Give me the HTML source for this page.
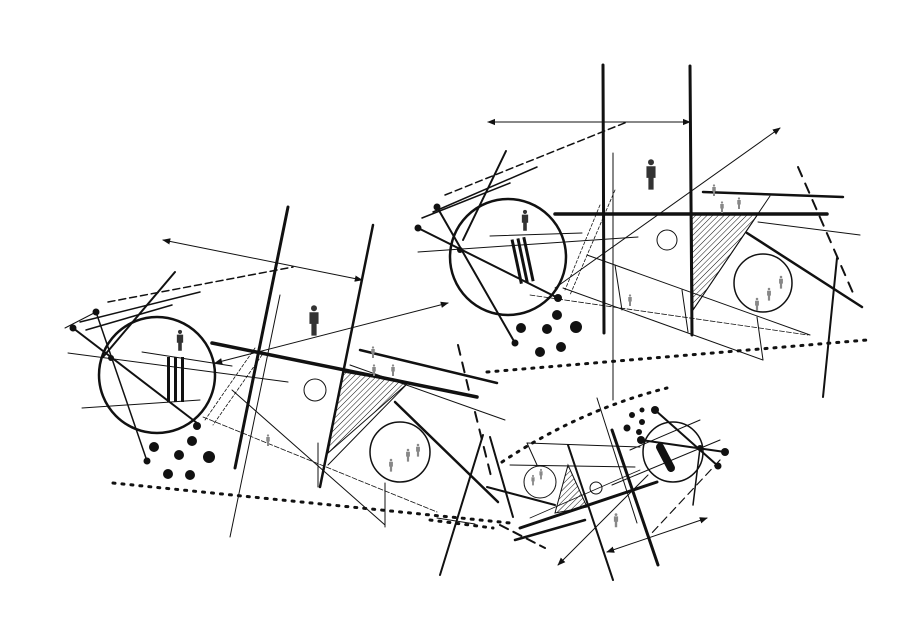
<!DOCTYPE html>
<html><head><meta charset="utf-8"><style>html,body{margin:0;padding:0;background:#fff}svg{display:block}</style></head>
<body>
<svg width="900" height="637" viewBox="0 0 900 637" xmlns="http://www.w3.org/2000/svg">
<defs>
<marker id="a" viewBox="0 0 10 10" refX="9" refY="5" markerWidth="8" markerHeight="8" orient="auto-start-reverse"><path d="M0,1 L10,5 L0,9 z" fill="#111"/></marker>
<pattern id="h" width="4" height="4" patternUnits="userSpaceOnUse" patternTransform="rotate(45)"><line x1="0" y1="0" x2="0" y2="4" stroke="#111" stroke-width="1"/></pattern>
<g id="fig"><circle cx="0" cy="-9" r="2.3"/><path d="M-3.5,-6 h7 v9 h-1.5 v9 h-4 v-9 h-1.5z"/></g>
</defs>
<g stroke="#111" fill="none" stroke-linecap="round">
<!-- LEFT GROUP -->
<circle cx="157" cy="375" r="58" stroke-width="2.5"/>
<line x1="288" y1="207" x2="235" y2="468" stroke-width="3"/>
<line x1="373" y1="225" x2="320" y2="487" stroke-width="2.5"/>
<line x1="163" y1="240" x2="362" y2="280" stroke-width="1" marker-start="url(#a)" marker-end="url(#a)"/>
<line x1="108" y1="302" x2="293" y2="267" stroke-width="1.5" stroke-dasharray="7,4"/>
<line x1="212" y1="343" x2="477" y2="397" stroke-width="3.5"/>
<line x1="360" y1="350" x2="497" y2="383" stroke-width="2.5"/>
<line x1="215" y1="363" x2="448" y2="303" stroke-width="1" marker-start="url(#a)" marker-end="url(#a)"/>
<circle cx="315" cy="390" r="11" stroke-width="1"/>
<polygon points="343,372 408,383 328,453" fill="url(#h)" stroke-width="1"/>
<line x1="408" y1="383" x2="328" y2="465" stroke-width="1"/>
<circle cx="400" cy="452" r="30" stroke-width="1.5"/>
<line x1="113" y1="483" x2="510" y2="523" stroke-width="3" stroke-dasharray="2,7"/>
<line x1="73" y1="328" x2="197" y2="423" stroke-width="2"/>
<line x1="96" y1="312" x2="147" y2="461" stroke-width="1.5"/>
<line x1="175" y1="272" x2="103" y2="357" stroke-width="2"/>
<line x1="80" y1="322" x2="200" y2="292" stroke-width="1.5"/>
<line x1="86" y1="330" x2="172" y2="305" stroke-width="1.5"/>
<line x1="65" y1="328" x2="96" y2="312" stroke-width="1"/>
<line x1="68" y1="353" x2="288" y2="382" stroke-width="1"/>
<line x1="142" y1="352" x2="232" y2="366" stroke-width="1"/>
<line x1="82" y1="408" x2="200" y2="400" stroke-width="1"/>
<line x1="232" y1="390" x2="385" y2="525" stroke-width="1"/>
<line x1="385" y1="483" x2="385" y2="527" stroke-width="1"/>
<line x1="203" y1="417" x2="437" y2="512" stroke-width="0.8" stroke-dasharray="5,2"/>
<line x1="280" y1="295" x2="230" y2="537" stroke-width="1"/>
<line x1="395" y1="402" x2="498" y2="502" stroke-width="2.5"/>
<line x1="318" y1="443" x2="318" y2="487" stroke-width="1"/>
<line x1="255" y1="348" x2="205" y2="420" stroke-width="0.8" stroke-dasharray="3,2"/>
<line x1="262" y1="355" x2="213" y2="425" stroke-width="0.8" stroke-dasharray="3,2"/>
<line x1="350" y1="365" x2="505" y2="420" stroke-width="1"/>
<line x1="458" y1="345" x2="470" y2="395" stroke-width="2" stroke-dasharray="10,8"/>
<line x1="475" y1="412" x2="492" y2="480" stroke-width="2" stroke-dasharray="10,8"/>
<line x1="483" y1="435" x2="440" y2="575" stroke-width="2"/>
<line x1="490" y1="437" x2="513" y2="517" stroke-width="2"/>
<line x1="437" y1="518" x2="475" y2="524" stroke-width="1"/>
<!-- UPPER RIGHT GROUP -->
<circle cx="508" cy="257" r="58" stroke-width="2.5"/>
<line x1="603" y1="65" x2="604" y2="333" stroke-width="3"/>
<line x1="690" y1="66" x2="692" y2="335" stroke-width="3"/>
<line x1="488" y1="122" x2="690" y2="122" stroke-width="1" marker-start="url(#a)" marker-end="url(#a)"/>
<line x1="445" y1="195" x2="627" y2="122" stroke-width="1.5" stroke-dasharray="7,4"/>
<line x1="555" y1="288" x2="780" y2="128" stroke-width="1" marker-end="url(#a)"/>
<line x1="555" y1="214" x2="827" y2="214" stroke-width="3.5"/>
<line x1="703" y1="192" x2="843" y2="197" stroke-width="2.5"/>
<polygon points="692,214 758,214 693,310" fill="url(#h)" stroke-width="1"/>
<line x1="770" y1="196" x2="693" y2="310" stroke-width="1"/>
<circle cx="667" cy="240" r="10" stroke-width="1"/>
<circle cx="763" cy="283" r="29" stroke-width="1.5"/>
<line x1="487" y1="372" x2="867" y2="340" stroke-width="3" stroke-dasharray="2,7"/>
<line x1="747" y1="233" x2="862" y2="307" stroke-width="2.5"/>
<line x1="798" y1="167" x2="853" y2="293" stroke-width="2" stroke-dasharray="10,8"/>
<line x1="837" y1="258" x2="823" y2="397" stroke-width="2"/>
<line x1="613" y1="153" x2="613" y2="400" stroke-width="1"/>
<line x1="437" y1="207" x2="515" y2="343" stroke-width="2"/>
<line x1="418" y1="228" x2="558" y2="298" stroke-width="2"/>
<line x1="506" y1="151" x2="463" y2="240" stroke-width="2"/>
<line x1="422" y1="218" x2="510" y2="183" stroke-width="1.5"/>
<line x1="433" y1="212" x2="537" y2="167" stroke-width="1.5"/>
<line x1="418" y1="252" x2="638" y2="237" stroke-width="1"/>
<line x1="490" y1="236" x2="582" y2="233" stroke-width="1"/>
<line x1="587" y1="255" x2="810" y2="335" stroke-width="1"/>
<line x1="563" y1="288" x2="763" y2="360" stroke-width="1"/>
<line x1="757" y1="317" x2="763" y2="360" stroke-width="1"/>
<line x1="682" y1="290" x2="688" y2="332" stroke-width="1"/>
<line x1="530" y1="295" x2="808" y2="335" stroke-width="0.8" stroke-dasharray="5,2"/>
<line x1="600" y1="205" x2="565" y2="290" stroke-width="0.8" stroke-dasharray="3,2"/>
<line x1="615" y1="190" x2="570" y2="295" stroke-width="0.8" stroke-dasharray="3,2"/>
<line x1="758" y1="222" x2="860" y2="235" stroke-width="1"/>
<line x1="615" y1="265" x2="622" y2="310" stroke-width="1"/>
<!-- LOWER GROUP -->
<circle cx="673" cy="452" r="30" stroke-width="1.5"/>
<circle cx="540" cy="482" r="16" stroke-width="1"/>
<circle cx="596" cy="488" r="6" stroke-width="1"/>
<polygon points="568,465 555,513 587,507" fill="url(#h)" stroke-width="1"/>
<line x1="520" y1="528" x2="657" y2="482" stroke-width="3"/>
<line x1="515" y1="540" x2="585" y2="520" stroke-width="2.5"/>
<line x1="568" y1="445" x2="613" y2="580" stroke-width="2"/>
<line x1="612" y1="430" x2="658" y2="565" stroke-width="3"/>
<line x1="597" y1="398" x2="637" y2="523" stroke-width="1"/>
<line x1="607" y1="552" x2="707" y2="518" stroke-width="1" marker-start="url(#a)" marker-end="url(#a)"/>
<line x1="648" y1="475" x2="558" y2="565" stroke-width="1" marker-end="url(#a)"/>
<line x1="527" y1="443" x2="640" y2="447" stroke-width="1"/>
<line x1="510" y1="465" x2="635" y2="467" stroke-width="1"/>
<line x1="527" y1="443" x2="537" y2="465" stroke-width="1"/>
<path d="M502,462 Q580,410 667,388" stroke-width="3" stroke-dasharray="2,7"/>
<line x1="430" y1="520" x2="493" y2="528" stroke-width="3" stroke-dasharray="2,7"/>
<line x1="487" y1="487" x2="555" y2="505" stroke-width="2"/>
<line x1="641" y1="440" x2="725" y2="452" stroke-width="2"/>
<line x1="655" y1="410" x2="718" y2="466" stroke-width="2"/>
<line x1="660" y1="447" x2="671" y2="468" stroke-width="8"/>
<line x1="630" y1="450" x2="700" y2="420" stroke-width="1"/>
<line x1="612" y1="485" x2="720" y2="440" stroke-width="1"/>
<line x1="700" y1="448" x2="693" y2="505" stroke-width="1.5"/>
<line x1="720" y1="460" x2="650" y2="535" stroke-width="1.2" stroke-dasharray="8,5"/>
<line x1="530" y1="518" x2="640" y2="470" stroke-width="0.8"/>
<line x1="500" y1="525" x2="545" y2="548" stroke-width="2" stroke-dasharray="9,6"/>
</g>
<g fill="#111">
<circle cx="96" cy="312" r="3.5"/><circle cx="73" cy="328" r="3.5"/><circle cx="111" cy="358" r="3"/><circle cx="147" cy="461" r="3.5"/>
<circle cx="154" cy="447" r="5"/><circle cx="179" cy="455" r="5"/><circle cx="209" cy="457" r="6"/><circle cx="192" cy="441" r="5"/><circle cx="168" cy="474" r="5"/><circle cx="190" cy="475" r="5"/><circle cx="197" cy="426" r="4"/>
<circle cx="437" cy="207" r="3.5"/><circle cx="418" cy="228" r="3.5"/><circle cx="460" cy="250" r="3"/><circle cx="515" cy="343" r="3.5"/>
<circle cx="521" cy="328" r="5"/><circle cx="547" cy="329" r="5"/><circle cx="576" cy="327" r="6"/><circle cx="557" cy="315" r="5"/><circle cx="558" cy="298" r="4"/><circle cx="540" cy="352" r="5"/><circle cx="561" cy="347" r="5"/>
<circle cx="641" cy="440" r="4"/><circle cx="655" cy="410" r="4"/><circle cx="700" cy="448" r="3"/><circle cx="725" cy="452" r="4"/><circle cx="718" cy="466" r="3.5"/>
<circle cx="632" cy="415" r="3"/><circle cx="642" cy="410" r="2.5"/><circle cx="642" cy="422" r="3"/><circle cx="627" cy="428" r="3.5"/><circle cx="639" cy="432" r="3"/>
<!-- bars -->
<rect x="167" y="357" width="3" height="45"/><rect x="174" y="357" width="3" height="45"/><rect x="181" y="357" width="3" height="45"/>
<g transform="translate(522,260) rotate(-12)"><rect x="-7" y="-22" width="3" height="45"/><rect x="-1" y="-22" width="3" height="45"/><rect x="5" y="-22" width="3" height="45"/></g>
</g>
<g fill="#333">
<use href="#fig" transform="translate(180,340) scale(0.9)"/>
<use href="#fig" transform="translate(525,220) scale(0.9)"/>
<use href="#fig" transform="translate(314,320) scale(1.3)"/>
<use href="#fig" transform="translate(651,174) scale(1.3)"/>
</g>
<g fill="#888">
<use href="#fig" transform="translate(268,440) scale(0.5)"/><use href="#fig" transform="translate(373,352) scale(0.5)"/><use href="#fig" transform="translate(374,370) scale(0.5)"/><use href="#fig" transform="translate(393,370) scale(0.5)"/>
<use href="#fig" transform="translate(408,455) scale(0.55)"/><use href="#fig" transform="translate(418,450) scale(0.55)"/><use href="#fig" transform="translate(391,465) scale(0.55)"/>
<use href="#fig" transform="translate(630,300) scale(0.5)"/><use href="#fig" transform="translate(714,190) scale(0.5)"/><use href="#fig" transform="translate(722,207) scale(0.5)"/><use href="#fig" transform="translate(739,203) scale(0.5)"/>
<use href="#fig" transform="translate(769,294) scale(0.55)"/><use href="#fig" transform="translate(781,282) scale(0.55)"/><use href="#fig" transform="translate(757,304) scale(0.55)"/>
<use href="#fig" transform="translate(616,520) scale(0.6)"/><use href="#fig" transform="translate(533,480) scale(0.45)"/><use href="#fig" transform="translate(541,474) scale(0.45)"/>
</g>
</svg>
</body></html>
